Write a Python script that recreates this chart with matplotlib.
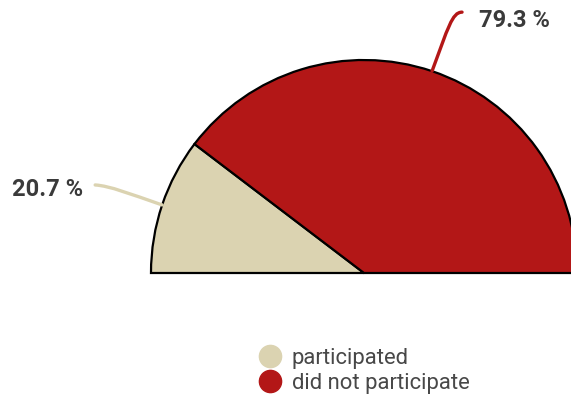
import matplotlib
matplotlib.use("Agg")
import matplotlib.pyplot as plt
import numpy as np
from matplotlib.path import Path
from matplotlib.patches import PathPatch
from matplotlib.lines import Line2D

plt.rcParams['font.family'] = ['Roboto', 'DejaVu Sans']

# share of respondents
labels = ['participated', 'did not participate']
shares = [20.7, 79.3]
colors = ['#dbd3b1', '#b31717']

W, H = 571, 398
fig = plt.figure(figsize=(W / 100, H / 100), dpi=100)
ax = fig.add_axes([0, 0, 1, 1])

cx, cy, r = 364, H - 273, 213

# half pie: the real slices fill 180 degrees, a hidden slice fills the rest
wedges, _ = ax.pie(shares + [sum(shares)], colors=colors + ['white'],
                   startangle=180, counterclock=False, radius=r, center=(cx, cy),
                   wedgeprops=dict(edgecolor='black', linewidth=1.6))
wedges[2].set_visible(False)

ax.set_xlim(0, W)
ax.set_ylim(0, H)
ax.set_aspect('equal')
ax.axis('off')

# curved leader lines from each slice's middle to its label
start = 180.0
for i, (s, c) in enumerate(zip(shares, colors)):
    span = s / 100 * 180
    mid = np.radians(start - span / 2)
    start -= span
    x0, y0 = cx + r * np.cos(mid), cy + r * np.sin(mid)
    if i == 0:
        pts = [(x0, y0), (x0 - 32, y0 + 11), (x0 - 52, y0 + 19), (x0 - 67, y0 + 20)]
        tx, ty = x0 - 150, y0 + 15
    else:
        pts = [(x0, y0), (x0 + 16, y0 + 43), (x0 + 20, y0 + 59), (x0 + 30, y0 + 59)]
        tx, ty = x0 + 47, y0 + 51
    path = Path(pts, [Path.MOVETO, Path.CURVE4, Path.CURVE4, Path.CURVE4])
    ax.add_patch(PathPatch(path, facecolor='none', edgecolor=c, lw=2.4, capstyle='round'))
    ax.text(tx, ty, f'{s} %', fontsize=17, fontweight='bold', color='#3a3a3a',
            ha='left', va='center')

handles = [Line2D([], [], marker='o', linestyle='none', markersize=16,
                  markerfacecolor=c, markeredgecolor=c) for c in colors]
ax.legend(handles, labels, loc='upper left', bbox_to_anchor=(248, H - 336),
          bbox_transform=ax.transData, frameon=False, fontsize=15.8,
          labelcolor='#484848', handletextpad=0.5, labelspacing=0.12,
          borderpad=0, handlelength=1.0, handleheight=1.0)

fig.savefig('out.png', dpi=100)
